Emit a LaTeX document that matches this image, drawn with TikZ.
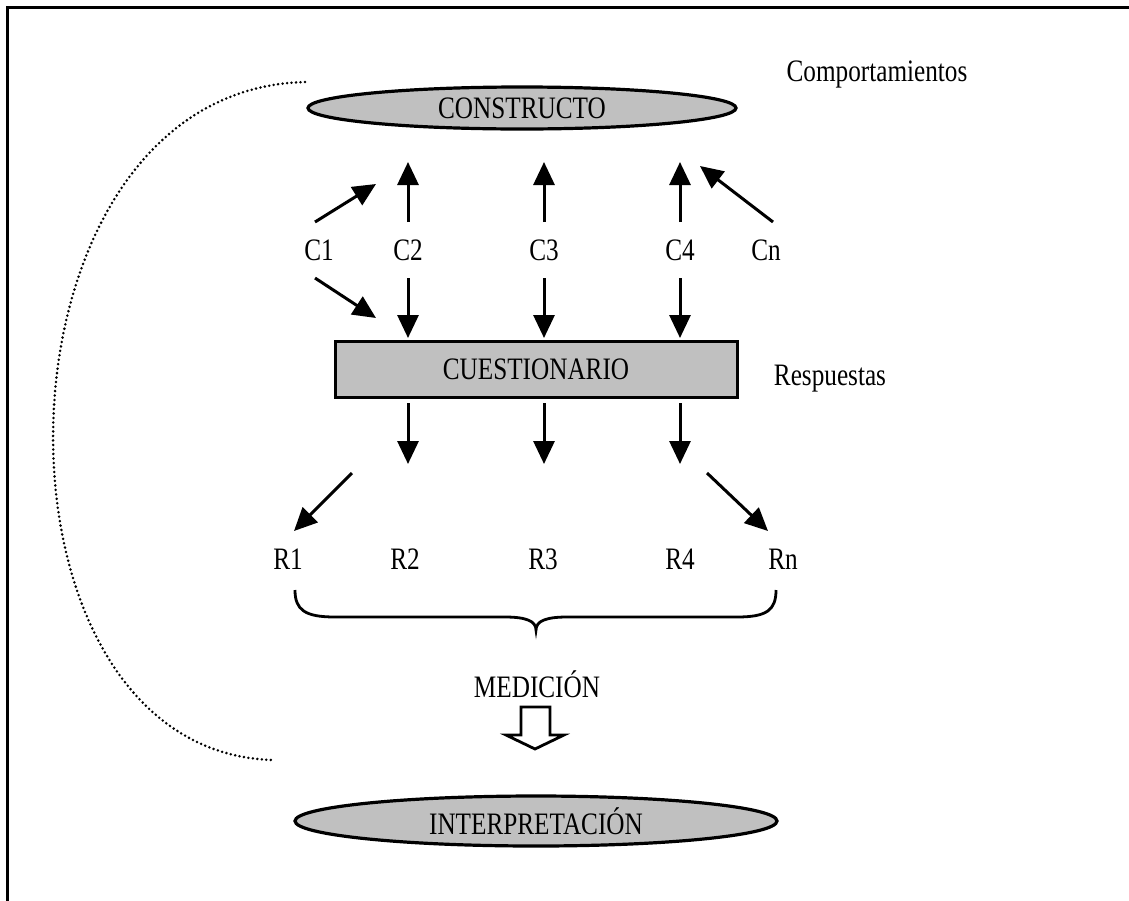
\documentclass[tikz,border=0pt]{standalone}
\usepackage{graphicx}
\usepackage{fontspec}
\setmainfont{Liberation Serif}
\usetikzlibrary{arrows.meta,shapes.geometric}
\definecolor{boxgray}{RGB}{192,192,192}
% slightly tall lettering
\newcommand\tallText[1]{\scalebox{0.97}[1.2]{#1}}
\begin{document}
\begin{tikzpicture}[x=1pt,y=-1pt,
  every node/.style={font=\fontsize{26}{30}\selectfont, inner sep=0pt},
  oval/.style={ellipse, draw, line width=3.2pt, fill=boxgray},
  arr/.style={line width=3pt, -{Triangle[length=23pt,width=21pt]}},
  link/.style={line width=2.8pt, dash pattern=on 0pt off 4.5pt, line cap=round},
  lbl/.style={anchor=center}]
\useasboundingbox (0,0) rectangle (1129,900);
% outer frame (only its top and left sides fall on the page)
\draw[line width=3pt] (7,905) -- (7,7) -- (1135,7);

% main shapes
\node[oval, minimum width=428pt, minimum height=42pt] (constructo) at (522,108) {\tallText{CONSTRUCTO}};
\node (comp) at (877,74) {\tallText{Comportamientos}};
\node[draw, line width=3pt, fill=boxgray, minimum width=402pt, minimum height=56pt] (cuest) at (536,369) {\tallText{CUESTIONARIO}};
\node (resp) at (830,379) {\tallText{Respuestas}};
\node[oval, minimum width=482pt, minimum height=50pt] (interp) at (536,821) {\tallText{INTERPRETACIÓN}};
\node (medicion) at (537,684) {\tallText{MEDICIÓN}};

% behaviour labels
\node (c1) at (319,250) {\tallText{C1}};
\node (c2) at (408,250) {\tallText{C2}};
\node (c3) at (544,250) {\tallText{C3}};
\node (c4) at (680,250) {\tallText{C4}};
\node (cn) at (766,250) {\tallText{Cn}};

% response labels
\node (r1) at (288,559) {\tallText{R1}};
\node (r2) at (405,559) {\tallText{R2}};
\node (r3) at (543,559) {\tallText{R3}};
\node (r4) at (680,559) {\tallText{R4}};
\node (rn) at (783,559) {\tallText{Rn}};

% arrows towards the construct
\draw[arr] (315,222) -- (376,184);
\draw[arr] (408,222) -- (408,162);
\draw[arr] (544,222) -- (544,162);
\draw[arr] (680,222) -- (680,162);
\draw[arr] (773,222) -- (700,166);

% arrows towards the questionnaire
\draw[arr] (315,278) -- (376,318);
\draw[arr] (408,278) -- (408,338);
\draw[arr] (544,278) -- (544,338);
\draw[arr] (680,278) -- (680,338);

% arrows towards the responses
\draw[arr] (352,473) -- (294,531);
\draw[arr] (408,403) -- (408,464);
\draw[arr] (544,403) -- (544,464);
\draw[arr] (680,403) -- (680,464);
\draw[arr] (707,473) -- (768,531);

% brace grouping the responses
\draw[line width=2.8pt] (295,590) .. controls (295,610) and (305,617) .. (335,617)
  -- (505,617) .. controls (526,617) and (536,621) .. (536,630)
  .. controls (536,621) and (546,617) .. (567,617)
  -- (737,617) .. controls (767,617) and (776,610) .. (776,590);

% hollow arrow from measurement to interpretation
\draw[line width=2.8pt, line join=miter] (521,707) -- (550,707) -- (550,735) -- (564,735)
  -- (535,749) -- (506,735) -- (521,735) -- cycle;

% dotted link between construct and interpretation
\draw[link] (305,82) .. controls (-20,90) and (-30,750) .. (272,760);
\end{tikzpicture}
\end{document}
